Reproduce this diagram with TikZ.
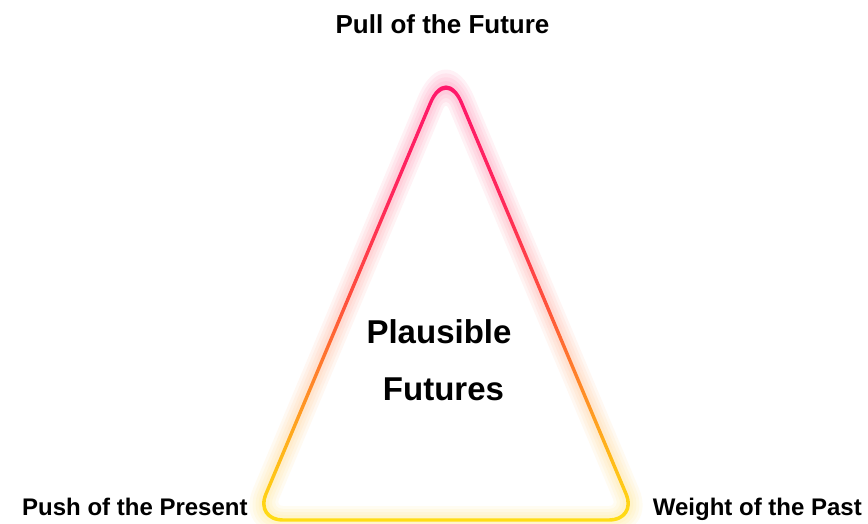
\documentclass[tikz,border=0pt]{standalone}
\usepackage{fontspec}
\setmainfont{Liberation Sans}
\usetikzlibrary{calc}
\definecolor{cpink}{RGB}{255,20,110}
\definecolor{cpr}{RGB}{255,40,90}
\definecolor{cred}{RGB}{255,80,60}
\definecolor{corng}{RGB}{255,135,40}
\definecolor{cyor}{RGB}{255,185,25}
\definecolor{cyel}{RGB}{255,222,20}
\pgfdeclareverticalshading{glowgrad}{100bp}{color(0bp)=(cyel); color(25bp)=(cyel); color(32bp)=(cyor); color(40bp)=(corng); color(49bp)=(cred); color(60bp)=(cpr); color(75bp)=(cpink); color(100bp)=(cpink)}
% #1 scale, #2 apex rounding, #3 base rounding
\newcommand\tripath[3]{($(I)!#1!(M)$) [rounded corners=#3] -- ($(I)!#1!(C)$) [rounded corners=#2] -- ($(I)!#1!(A)$) [rounded corners=#3] -- ($(I)!#1!(B)$) -- cycle}
\newcommand\glowband[2]{%
  \pgfmathsetmacro\so{1+#1/126.9}\pgfmathsetmacro\si{1-#1/126.9}%
  \pgfmathsetmacro\rao{40+2.38*#1}\pgfmathsetmacro\rai{max(40-2.38*#1,1)}%
  \pgfmathsetmacro\rbo{28+1.51*#1}\pgfmathsetmacro\rbi{max(28-1.51*#1,1)}%
  \shade[shading=glowgrad, even odd rule, opacity=#2] \tripath{\so}{\rao pt}{\rbo pt} \tripath{\si}{\rai pt}{\rbi pt};}
\tikzset{
  lbl/.style={font=\bfseries\fontsize{26}{30}\selectfont, inner sep=0pt, text=black},
  lbls/.style={font=\bfseries\fontsize{24}{28}\selectfont, inner sep=0pt, text=black},
  big/.style={font=\bfseries\fontsize{33}{38}\selectfont, inner sep=0pt, text=black}
}
\begin{document}
\begin{tikzpicture}[x=1pt,y=-1pt]
\useasboundingbox[fill=white] (0,0) rectangle (868,524);
\coordinate (A) at (446,66);
\coordinate (B) at (255,520);
\coordinate (C) at (637,520);
\coordinate (M) at (446,520);
\coordinate (I) at (446,393.1);
\foreach \d in {14,11,8,5}{\glowband{\d}{0.06}}
\glowband{1.7}{1}
\node[lbl, anchor=base] (fut) at (442.5,34) {Pull of the Future};
\node[lbls, anchor=base west] (pres) at (22,515) {Push of the Present};
\node[lbls, anchor=base east] (past) at (862,515) {Weight of the Past};
\node[big, anchor=base] (pl) at (439,343) {Plausible};
\node[big, anchor=base] (fu) at (443.5,400) {Futures};
\end{tikzpicture}
\end{document}
